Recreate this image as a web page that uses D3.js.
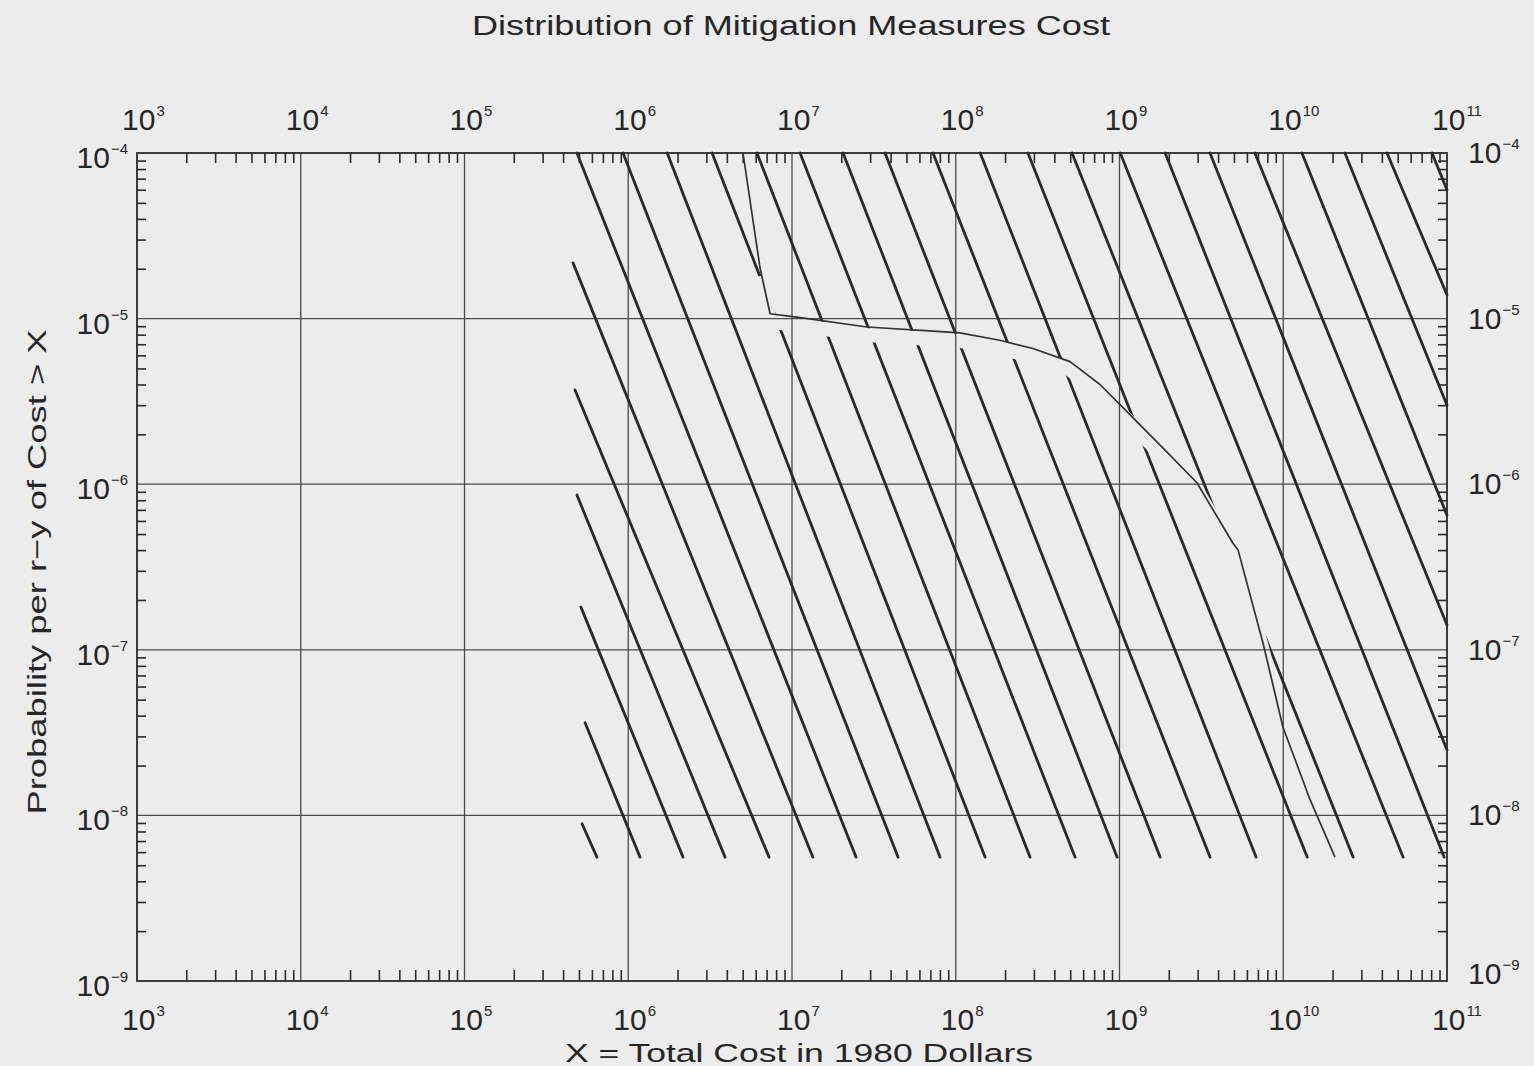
<!DOCTYPE html>
<html>
<head>
<meta charset="utf-8">
<script src="https://cdn.jsdelivr.net/npm/d3@7"></script>
<style>
  body { margin: 0; background: #ececec; }
  text { font-family: "Liberation Sans", Arial, sans-serif; fill: #262626; }
</style>
</head>
<body>
<div id="chart"></div>
<script>
// Data
// ================================
var costExponents = [3, 4, 5, 6, 7, 8, 9, 10, 11];
var probExponents = [-4, -5, -6, -7, -8, -9];

// distribution curve (cost, probability of cost > X)
var curveCost = [5.02e6, 6.38e6, 7.35e6, 1.07e7, 2.87e7, 7.26e7, 1.06e8, 1.86e8, 2.96e8,
  4.99e8, 7.6e8, 1.05e9, 1.95e9, 2.97e9, 4.93e9, 5.3e9, 7.52e9, 9.95e9, 1.46e10, 2.07e10];
var curveProb = [1e-4, 2.02e-5, 1.07e-5, 1.02e-5, 8.9e-6, 8.4e-6, 8.2e-6, 7.4e-6, 6.6e-6,
  5.5e-6, 4.0e-6, 2.9e-6, 1.56e-6, 1.02e-6, 4.4e-7, 4.0e-7, 1.10e-7, 3.42e-8, 1.24e-8, 5.6e-9];

// hatching lines: start and end points
var hatchStartCost = [5.22e5, 5.45e5, 5.14e5, 4.86e5, 4.73e5, 4.60e5,
  4.86e5, 9.29e5, 1.73e6, 3.25e6, 6.11e6, 1.12e7, 2.05e7, 3.70e7, 7.26e7, 1.41e8,
  2.76e8, 5.13e8, 1.01e9, 1.90e9, 3.57e9, 6.71e9, 1.30e10, 2.38e10, 4.30e10, 8.1e10];
var hatchStartProb = [8.9e-9, 3.63e-8, 1.81e-7, 8.6e-7, 3.71e-6, 2.17e-5,
  1e-4, 1e-4, 1e-4, 1e-4, 1e-4, 1e-4, 1e-4, 1e-4, 1e-4, 1e-4,
  1e-4, 1e-4, 1e-4, 1e-4, 1e-4, 1e-4, 1e-4, 1e-4, 1e-4, 1e-4];
var hatchEndCost = [6.44e5, 1.18e6, 2.16e6, 3.90e6, 7.24e6, 1.34e7,
  2.46e7, 4.44e7, 8.01e7, 1.51e8, 2.84e8, 5.35e8, 9.66e8, 1.77e9, 3.57e9, 6.82e9,
  1.40e10, 2.67e10, 5.39e10, 9.6e10, 1e11, 1e11, 1e11, 1e11, 1e11, 1e11];
var hatchEndProb = [5.6e-9, 5.6e-9, 5.6e-9, 5.6e-9, 5.6e-9, 5.6e-9,
  5.6e-9, 5.6e-9, 5.6e-9, 5.6e-9, 5.6e-9, 5.6e-9, 5.6e-9, 5.6e-9, 5.6e-9, 5.6e-9,
  5.6e-9, 5.6e-9, 5.6e-9, 5.6e-9, 2.48e-8, 1.41e-7, 6.5e-7, 3.0e-6, 1.39e-5, 5.98e-5];

var titleText = "Distribution of Mitigation Measures Cost";
var xLabelText = "X = Total Cost in 1980 Dollars";
var yLabelText = "Probability per r\u2212y of Cost > X";

// Dimensiones
// ===========
var W = 1534, H = 1066;
var plotL = 137, plotR = 1447, plotT = 153, plotB = 981;
var ink = "#2b2b2b";

var svg = d3.select("#chart").append("svg")
  .attr("width", W).attr("height", H)
  .style("background", "#ececec");

var x = d3.scaleLog().domain([1e3, 1e11]).range([plotL, plotR]);
var y = d3.scaleLog().domain([1e-9, 1e-4]).range([plotB, plotT]);

// minor ticks
var xMinor = [], yMinor = [];
costExponents.slice(0, -1).forEach(function(e) {
  for (var m = 2; m <= 9; m++) xMinor.push(m * Math.pow(10, e));
});
probExponents.slice(1).forEach(function(e) {
  for (var m = 2; m <= 9; m++) yMinor.push(m * Math.pow(10, e));
});
var xDec = costExponents.map(function(e) { return Math.pow(10, e); });
var yDec = probExponents.map(function(e) { return Math.pow(10, e); });

// Grid
// ====
svg.append("g").selectAll("line").data(xDec.slice(1, -1)).join("line")
  .attr("x1", function(d) { return x(d); }).attr("x2", function(d) { return x(d); })
  .attr("y1", plotT).attr("y2", plotB)
  .attr("stroke", "#4a4a4a").attr("stroke-width", 1.3);
svg.append("g").selectAll("line").data(yDec.slice(1, -1)).join("line")
  .attr("y1", function(d) { return y(d); }).attr("y2", function(d) { return y(d); })
  .attr("x1", plotL).attr("x2", plotR)
  .attr("stroke", "#4a4a4a").attr("stroke-width", 1.3);

// axes with inward ticks
function styleAxis(g) {
  g.select(".domain").remove();
  g.selectAll(".tick line").attr("stroke", ink).attr("stroke-width", 1.6);
}
svg.append("g").attr("transform", "translate(0," + plotB + ")")
  .call(d3.axisBottom(x).tickValues(xMinor).tickSize(-11).tickFormat(""))
  .call(styleAxis);
svg.append("g").attr("transform", "translate(0," + plotT + ")")
  .call(d3.axisTop(x).tickValues(xMinor).tickSize(-10).tickFormat(""))
  .call(styleAxis);
svg.append("g").attr("transform", "translate(" + plotL + ",0)")
  .call(d3.axisLeft(y).tickValues(yMinor).tickSize(-9).tickFormat(""))
  .call(styleAxis);
svg.append("g").attr("transform", "translate(" + plotR + ",0)")
  .call(d3.axisRight(y).tickValues(yMinor).tickSize(-9).tickFormat(""))
  .call(styleAxis);

// Hatching, with gaps just under the curve
// ========================================
var line = d3.line()
  .x(function(d) { return x(d[0]); })
  .y(function(d) { return y(d[1]); });
var curvePts = d3.zip(curveCost, curveProb);

var defs = svg.append("defs");
var mask = defs.append("mask").attr("id", "gap")
  .attr("maskUnits", "userSpaceOnUse")
  .attr("x", 0).attr("y", 0).attr("width", W).attr("height", H);
mask.append("rect").attr("width", W).attr("height", H).attr("fill", "white");
// the steep first stretch leaves the hatch untouched (lines meet it in a V)
mask.append("path").datum(curvePts.slice(1))
  .attr("d", line)
  .attr("transform", "translate(0,8)")
  .attr("fill", "none").attr("stroke", "black").attr("stroke-width", 14);

var hatch = d3.range(hatchStartCost.length).map(function(i) {
  return [[hatchStartCost[i], hatchStartProb[i]], [hatchEndCost[i], hatchEndProb[i]]];
});
svg.append("g").attr("mask", "url(#gap)")
  .selectAll("path").data(hatch).join("path")
  .attr("d", line)
  .attr("fill", "none").attr("stroke", "#2a2a2a")
  .attr("stroke-width", 2.8).attr("stroke-linecap", "round");

// frame
svg.append("rect")
  .attr("x", plotL).attr("y", plotT)
  .attr("width", plotR - plotL).attr("height", plotB - plotT)
  .attr("fill", "none").attr("stroke", ink).attr("stroke-width", 1.8);

// curve
svg.append("path").datum(curvePts)
  .attr("d", line)
  .attr("fill", "none").attr("stroke", "#333")
  .attr("stroke-width", 1.7).attr("stroke-linejoin", "round");

// Tick labels
// ===========
function power(g, px, py, exp, anchor) {
  var t = g.append("text").attr("x", px).attr("y", py)
    .attr("text-anchor", anchor).style("font-size", "30px");
  t.append("tspan").text("10");
  t.append("tspan").attr("dy", -14).attr("dx", 1).style("font-size", "15px")
    .text(exp < 0 ? "\u2212" + (-exp) : exp);
}
var labels = svg.append("g");
costExponents.forEach(function(e) {
  var px = x(Math.pow(10, e));
  power(labels, px - 15, 1030, e, "start");
  power(labels, px - 15, 130, e, "start");
});
probExponents.forEach(function(e) {
  var py = y(Math.pow(10, e));
  power(labels, 128, py + 15, e, "end");
  power(labels, 1468, Math.min(py + 10, 984), e, "start");
});

// Titles
// ======
svg.append("text")
  .attr("x", 472).attr("y", 35)
  .attr("textLength", 638).attr("lengthAdjust", "spacingAndGlyphs")
  .style("font-size", "27px")
  .text(titleText);

svg.append("text")
  .attr("x", 565).attr("y", 1062)
  .attr("textLength", 468).attr("lengthAdjust", "spacingAndGlyphs")
  .style("font-size", "25px")
  .text(xLabelText);

svg.append("text")
  .attr("transform", "translate(46,572) rotate(-90)")
  .attr("text-anchor", "middle")
  .attr("textLength", 485).attr("lengthAdjust", "spacingAndGlyphs")
  .style("font-size", "26px")
  .text(yLabelText);
</script>
</body>
</html>
